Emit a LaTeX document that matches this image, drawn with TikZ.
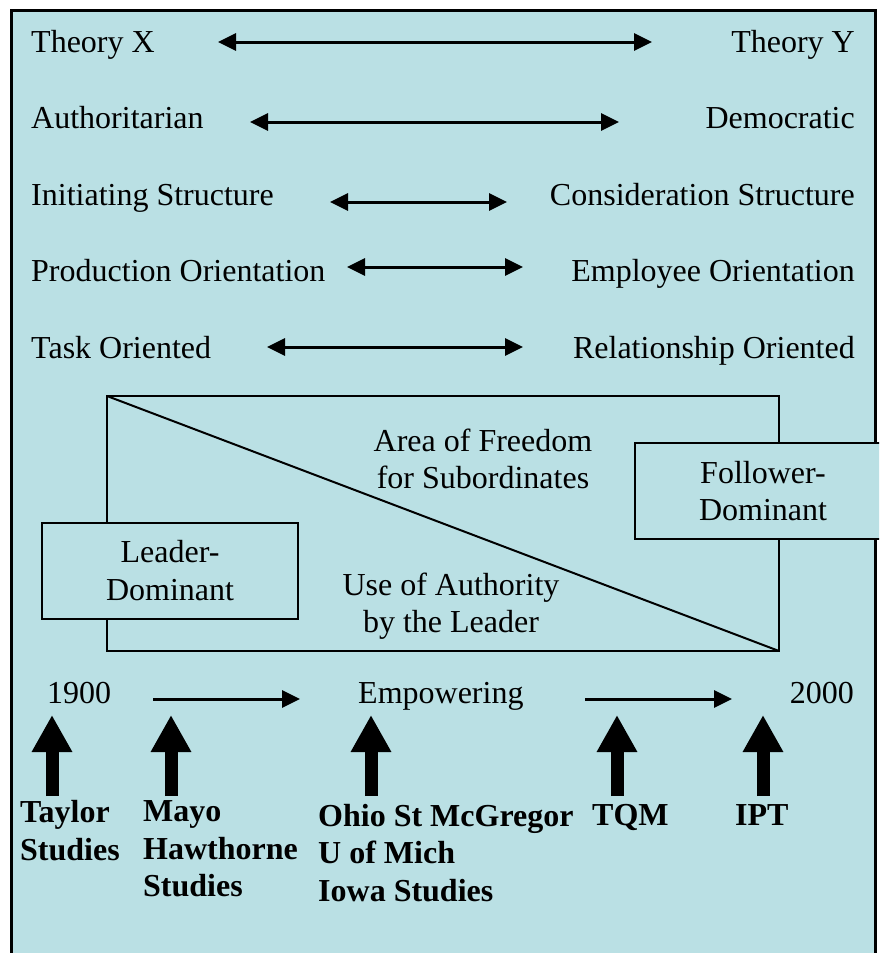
\documentclass[tikz,border=0pt]{standalone}
\usepackage{fontspec}
\setmainfont{Liberation Serif}
\usetikzlibrary{arrows.meta}
\definecolor{bgblue}{RGB}{186,224,228}
\begin{document}
\begin{tikzpicture}[x=1pt,y=-1pt,
  txt/.style={inner sep=0pt, font=\fontsize{32}{37.5}\selectfont},
  twoline/.style={txt, align=center},
  btxt/.style={inner sep=0pt, font=\fontsize{32}{37.5}\selectfont\bfseries, align=left, anchor=north west},
  dbl/.style={line width=3pt, {Triangle[length=18pt 0 0,width=17pt 0 0]}-{Triangle[length=18pt 0 0,width=17pt 0 0]}},
  fwd/.style={line width=3pt, -{Triangle[length=18pt 0 0,width=17pt 0 0]}},
  blk/.style={line width=13pt, -{Triangle[length=37pt 0 0,width=38pt 0 0]}},
  dombox/.style={draw, line width=2pt, fill=bgblue, inner sep=0pt, align=center,
    minimum width=256pt, minimum height=96pt, font=\fontsize{32}{37.5}\selectfont}
]
\clip (0,0) rectangle (879,953);
\fill[white] (0,0) rectangle (879,953);
\draw[line width=3pt, fill=bgblue] (11,10) rectangle (875,975);

% rows of opposites
\node[txt, anchor=base west] (tx) at (31,52) {Theory X};
\node[txt, anchor=base east] (ty) at (855,52) {Theory Y};
\coordinate (a1l) at (218,42); \coordinate (a1r) at (652,42);
\draw[dbl] (a1l) -- (a1r);

\node[txt, anchor=base west] (au) at (31,128) {Authoritarian};
\node[txt, anchor=base east] (de) at (855,128) {Democratic};
\coordinate (a2l) at (250,122); \coordinate (a2r) at (619,122);
\draw[dbl] (a2l) -- (a2r);

\node[txt, anchor=base west] (is) at (31,205) {Initiating Structure};
\node[txt, anchor=base east] (cs) at (855,205) {Consideration Structure};
\coordinate (a3l) at (330,202); \coordinate (a3r) at (507,202);
\draw[dbl] (a3l) -- (a3r);

\node[txt, anchor=base west] (po) at (31,281) {Production Orientation};
\node[txt, anchor=base east] (eo) at (855,281) {Employee Orientation};
\coordinate (a4l) at (347,267); \coordinate (a4r) at (523,267);
\draw[dbl] (a4l) -- (a4r);

\node[txt, anchor=base west] (to) at (31,358) {Task Oriented};
\node[txt, anchor=base east] (ro) at (855,358) {Relationship Oriented};
\coordinate (a5l) at (267,347); \coordinate (a5r) at (523,347);
\draw[dbl] (a5l) -- (a5r);

% continuum rectangle
\coordinate (rtl) at (107,396);
\coordinate (rbr) at (779,651);
\draw[line width=2pt] (rtl) rectangle (rbr);
\draw[line width=2pt] (rtl) -- (rbr);
\node[twoline] (free) at (483,459) {Area of Freedom\\for Subordinates};
\node[twoline] (auth) at (451,606) {Use of Authority\\by the Leader};
\node[dombox] (ld) at (170,570.5) {Leader-\\Dominant};
\node[dombox] (fd) at (763,491) {Follower-\\Dominant};

% timeline
\node[txt, anchor=base west] (y1900) at (47,703) {1900};
\node[txt, anchor=base west] (emp) at (358,703) {Empowering};
\node[txt, anchor=base east] (y2000) at (854,703) {2000};
\coordinate (t1l) at (153,699); \coordinate (t1r) at (300,699);
\coordinate (t2l) at (585,699); \coordinate (t2r) at (732,699);
\draw[fwd] (t1l) -- (t1r);
\draw[fwd] (t2l) -- (t2r);

% studies
\node[btxt] (taylor) at (20,800.5) {Taylor\\Studies};
\node[btxt] (mayo) at (143,800.5) {Mayo\\Hawthorne\\Studies};
\node[btxt] (ohio) at (318,804) {Ohio St McGregor\\U of Mich\\Iowa Studies};
\node[btxt] (tqm) at (592,804) {TQM};
\node[btxt] (ipt) at (735,804) {IPT};

\coordinate (b1b) at (52,796); \coordinate (b1t) at (52,715);
\coordinate (b2b) at (171,796); \coordinate (b2t) at (171,715);
\coordinate (b3b) at (371,796); \coordinate (b3t) at (371,715);
\coordinate (b4b) at (617,796); \coordinate (b4t) at (617,715);
\coordinate (b5b) at (763,796); \coordinate (b5t) at (763,715);
\draw[blk] (b1b) -- (b1t);
\draw[blk] (b2b) -- (b2t);
\draw[blk] (b3b) -- (b3t);
\draw[blk] (b4b) -- (b4t);
\draw[blk] (b5b) -- (b5t);
\end{tikzpicture}
\end{document}
